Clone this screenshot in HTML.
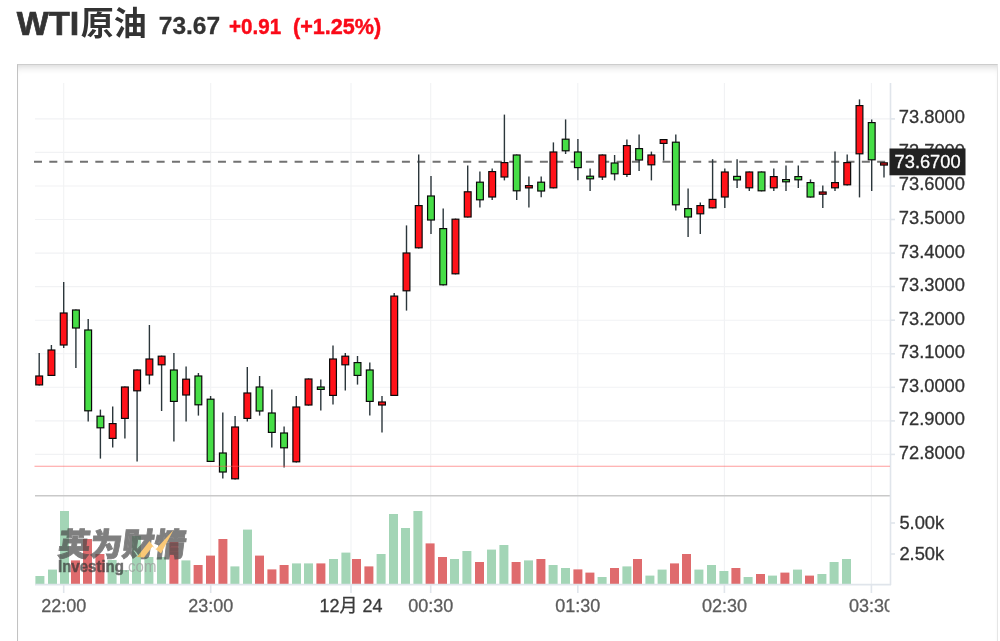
<!DOCTYPE html>
<html lang="zh-CN"><head><meta charset="utf-8"><title>WTI原油</title>
<style>
html,body{margin:0;padding:0;background:#fff;}
body{width:1000px;height:641px;position:relative;overflow:hidden;font-family:"Liberation Sans","Noto Sans CJK SC",sans-serif;}
.hd{position:absolute;left:0;top:0;height:50px;white-space:nowrap;color:#333;font-weight:bold;}
.hd span{position:absolute;line-height:1;display:block;transform-origin:0 0;}
.t{font-size:34px;left:16.8px;top:5.5px;}
.t b{-webkit-text-stroke:0.7px #333;}
.t i{font-style:normal;font-size:33px;margin-left:1.6px;position:relative;top:0.6px;}
.p{-webkit-text-stroke:0.3px #333;font-size:24.5px;left:158.8px;top:13.7px;}
.c{font-size:22px;left:229.3px;top:15.5px;color:#fa0a18;-webkit-text-stroke:0.45px #fa0a18;transform:scaleX(0.936);}
.c2{font-size:22px;left:292.7px;top:15.5px;color:#fa0a18;-webkit-text-stroke:0.45px #fa0a18;transform:scaleX(0.98);}
.box{position:absolute;left:16.8px;top:64.2px;width:981.6px;height:620px;border:1.8px solid #c2c2c2;border-top:1.8px solid #cdcdcd;border-right:1px solid #e6e6e6;box-shadow:inset 0 7px 9px -6px rgba(0,0,0,.2);box-sizing:border-box;}
</style></head><body>
<div class="hd"><span class="t"><b>WTI</b><i>原油</i></span><span class="p">73.67</span><span class="c">+0.91</span><span class="c2">(+1.25%)</span></div>
<div class="box"></div>
<svg width="1000" height="641" viewBox="0 0 1000 641" style="position:absolute;left:0;top:0">
<g stroke="#f1f2f4" stroke-width="1.1">
<line x1="35" x2="890" y1="118.9" y2="118.9"/>
<line x1="35" x2="890" y1="152.4" y2="152.4"/>
<line x1="35" x2="890" y1="186.0" y2="186.0"/>
<line x1="35" x2="890" y1="219.5" y2="219.5"/>
<line x1="35" x2="890" y1="253.1" y2="253.1"/>
<line x1="35" x2="890" y1="286.6" y2="286.6"/>
<line x1="35" x2="890" y1="320.2" y2="320.2"/>
<line x1="35" x2="890" y1="353.8" y2="353.8"/>
<line x1="35" x2="890" y1="387.3" y2="387.3"/>
<line x1="35" x2="890" y1="420.9" y2="420.9"/>
<line x1="35" x2="890" y1="454.4" y2="454.4"/>
<line x1="63.7" x2="63.7" y1="83" y2="584"/>
<line x1="210.7" x2="210.7" y1="83" y2="584"/>
<line x1="351" x2="351" y1="83" y2="584"/>
<line x1="430.7" x2="430.7" y1="83" y2="584"/>
<line x1="577.8" x2="577.8" y1="83" y2="584"/>
<line x1="724.4" x2="724.4" y1="83" y2="584"/>
<line x1="871.4" x2="871.4" y1="83" y2="584"/>
</g>
<line x1="34" x2="890" y1="161.8" y2="161.8" stroke="#727272" stroke-width="2.1" stroke-dasharray="8 7.33"/>
<rect x="35.4" y="576.0" width="9" height="8.0" fill="#a3d5b6"/>
<rect x="48.0" y="569.6" width="9" height="14.4" fill="#a3d5b6"/>
<rect x="60.0" y="511.0" width="9" height="73.0" fill="#a3d5b6"/>
<rect x="71.0" y="560.4" width="9" height="23.6" fill="#df6b6d"/>
<rect x="83.0" y="539.0" width="9" height="45.0" fill="#df6b6d"/>
<rect x="95.4" y="554.0" width="9" height="30.0" fill="#df6b6d"/>
<rect x="107.6" y="560.0" width="9" height="24.0" fill="#a3d5b6"/>
<rect x="120.0" y="570.0" width="9" height="14.0" fill="#a3d5b6"/>
<rect x="132.0" y="536.0" width="9" height="48.0" fill="#a3d5b6"/>
<rect x="144.4" y="557.0" width="9" height="27.0" fill="#a3d5b6"/>
<rect x="157.0" y="557.0" width="9" height="27.0" fill="#a3d5b6"/>
<rect x="169.4" y="542.0" width="9" height="42.0" fill="#df6b6d"/>
<rect x="181.4" y="560.4" width="9" height="23.6" fill="#a3d5b6"/>
<rect x="193.6" y="565.0" width="9" height="19.0" fill="#df6b6d"/>
<rect x="206.0" y="555.6" width="9" height="28.4" fill="#df6b6d"/>
<rect x="218.4" y="539.0" width="9" height="45.0" fill="#df6b6d"/>
<rect x="230.4" y="566.4" width="9" height="17.6" fill="#a3d5b6"/>
<rect x="243.0" y="529.6" width="9" height="54.4" fill="#a3d5b6"/>
<rect x="255.0" y="555.6" width="9" height="28.4" fill="#df6b6d"/>
<rect x="267.4" y="569.4" width="9" height="14.6" fill="#df6b6d"/>
<rect x="279.6" y="565.0" width="9" height="19.0" fill="#df6b6d"/>
<rect x="292.0" y="563.4" width="9" height="20.6" fill="#a3d5b6"/>
<rect x="304.0" y="563.4" width="9" height="20.6" fill="#a3d5b6"/>
<rect x="316.4" y="563.4" width="9" height="20.6" fill="#df6b6d"/>
<rect x="329.0" y="559.0" width="9" height="25.0" fill="#a3d5b6"/>
<rect x="341.4" y="552.6" width="9" height="31.4" fill="#a3d5b6"/>
<rect x="352.0" y="559.0" width="9" height="25.0" fill="#df6b6d"/>
<rect x="364.4" y="566.4" width="9" height="17.6" fill="#df6b6d"/>
<rect x="376.6" y="554.0" width="9" height="30.0" fill="#a3d5b6"/>
<rect x="389.0" y="514.0" width="9" height="70.0" fill="#a3d5b6"/>
<rect x="401.0" y="528.0" width="9" height="56.0" fill="#a3d5b6"/>
<rect x="413.4" y="511.0" width="9" height="73.0" fill="#a3d5b6"/>
<rect x="425.6" y="543.4" width="9" height="40.6" fill="#df6b6d"/>
<rect x="438.0" y="557.0" width="9" height="27.0" fill="#df6b6d"/>
<rect x="450.0" y="559.0" width="9" height="25.0" fill="#a3d5b6"/>
<rect x="462.4" y="551.0" width="9" height="33.0" fill="#a3d5b6"/>
<rect x="475.0" y="562.0" width="9" height="22.0" fill="#df6b6d"/>
<rect x="487.0" y="549.6" width="9" height="34.4" fill="#a3d5b6"/>
<rect x="499.4" y="545.0" width="9" height="39.0" fill="#a3d5b6"/>
<rect x="511.6" y="562.0" width="9" height="22.0" fill="#df6b6d"/>
<rect x="524.0" y="560.4" width="9" height="23.6" fill="#a3d5b6"/>
<rect x="536.4" y="559.0" width="9" height="25.0" fill="#df6b6d"/>
<rect x="548.6" y="565.0" width="9" height="19.0" fill="#a3d5b6"/>
<rect x="561.0" y="568.0" width="9" height="16.0" fill="#a3d5b6"/>
<rect x="573.4" y="569.4" width="9" height="14.6" fill="#df6b6d"/>
<rect x="585.4" y="572.6" width="9" height="11.4" fill="#df6b6d"/>
<rect x="597.6" y="577.0" width="9" height="7.0" fill="#a3d5b6"/>
<rect x="610.0" y="568.0" width="9" height="16.0" fill="#df6b6d"/>
<rect x="622.4" y="566.4" width="9" height="17.6" fill="#a3d5b6"/>
<rect x="633.0" y="559.0" width="9" height="25.0" fill="#df6b6d"/>
<rect x="645.4" y="575.6" width="9" height="8.4" fill="#a3d5b6"/>
<rect x="657.6" y="569.6" width="9" height="14.4" fill="#a3d5b6"/>
<rect x="670.0" y="563.4" width="9" height="20.6" fill="#df6b6d"/>
<rect x="682.0" y="554.0" width="9" height="30.0" fill="#df6b6d"/>
<rect x="694.4" y="569.6" width="9" height="14.4" fill="#a3d5b6"/>
<rect x="707.0" y="565.0" width="9" height="19.0" fill="#a3d5b6"/>
<rect x="719.4" y="571.0" width="9" height="13.0" fill="#a3d5b6"/>
<rect x="731.4" y="568.0" width="9" height="16.0" fill="#df6b6d"/>
<rect x="743.6" y="577.0" width="9" height="7.0" fill="#a3d5b6"/>
<rect x="756.0" y="574.0" width="9" height="10.0" fill="#df6b6d"/>
<rect x="768.0" y="575.6" width="9" height="8.4" fill="#a3d5b6"/>
<rect x="780.4" y="572.6" width="9" height="11.4" fill="#df6b6d"/>
<rect x="793.0" y="569.6" width="9" height="14.4" fill="#a3d5b6"/>
<rect x="805.0" y="575.6" width="9" height="8.4" fill="#df6b6d"/>
<rect x="817.4" y="574.0" width="9" height="10.0" fill="#a3d5b6"/>
<rect x="829.6" y="562.0" width="9" height="22.0" fill="#a3d5b6"/>
<rect x="842.0" y="559.0" width="9" height="25.0" fill="#a3d5b6"/>
<line x1="35" x2="890" y1="495.8" y2="495.8" stroke="#c9c9c9" stroke-width="1.6"/>
<line x1="890.5" x2="890.5" y1="83" y2="585" stroke="#e0e5eb" stroke-width="1.6"/>
<line x1="35" x2="891" y1="584.6" y2="584.6" stroke="#e0e5eb" stroke-width="1.6"/>
<line x1="63.7" x2="63.7" y1="585" y2="593" stroke="#e0e5eb" stroke-width="1.6"/>
<line x1="210.7" x2="210.7" y1="585" y2="593" stroke="#e0e5eb" stroke-width="1.6"/>
<line x1="351" x2="351" y1="585" y2="593" stroke="#e0e5eb" stroke-width="1.6"/>
<line x1="430.7" x2="430.7" y1="585" y2="593" stroke="#e0e5eb" stroke-width="1.6"/>
<line x1="577.8" x2="577.8" y1="585" y2="593" stroke="#e0e5eb" stroke-width="1.6"/>
<line x1="724.4" x2="724.4" y1="585" y2="593" stroke="#e0e5eb" stroke-width="1.6"/>
<line x1="871.4" x2="871.4" y1="585" y2="593" stroke="#e0e5eb" stroke-width="1.6"/>
<line x1="891" x2="895" y1="118.9" y2="118.9" stroke="#e0e5eb" stroke-width="1.6"/>
<line x1="891" x2="895" y1="152.4" y2="152.4" stroke="#e0e5eb" stroke-width="1.6"/>
<line x1="891" x2="895" y1="186.0" y2="186.0" stroke="#e0e5eb" stroke-width="1.6"/>
<line x1="891" x2="895" y1="219.5" y2="219.5" stroke="#e0e5eb" stroke-width="1.6"/>
<line x1="891" x2="895" y1="253.1" y2="253.1" stroke="#e0e5eb" stroke-width="1.6"/>
<line x1="891" x2="895" y1="286.6" y2="286.6" stroke="#e0e5eb" stroke-width="1.6"/>
<line x1="891" x2="895" y1="320.2" y2="320.2" stroke="#e0e5eb" stroke-width="1.6"/>
<line x1="891" x2="895" y1="353.8" y2="353.8" stroke="#e0e5eb" stroke-width="1.6"/>
<line x1="891" x2="895" y1="387.3" y2="387.3" stroke="#e0e5eb" stroke-width="1.6"/>
<line x1="891" x2="895" y1="420.9" y2="420.9" stroke="#e0e5eb" stroke-width="1.6"/>
<line x1="891" x2="895" y1="454.4" y2="454.4" stroke="#e0e5eb" stroke-width="1.6"/>
<line x1="891" x2="895" y1="523" y2="523" stroke="#e0e5eb" stroke-width="1.6"/>
<line x1="891" x2="895" y1="554" y2="554" stroke="#e0e5eb" stroke-width="1.6"/>
<line x1="39.2" x2="39.2" y1="353.0" y2="385.5" stroke="#2b363b" stroke-width="1.4"/>
<rect x="35.80" y="376.00" width="6.80" height="8.90" fill="#ff1219" stroke="#0a0a0a" stroke-width="1.2"/>
<line x1="51.4" x2="51.4" y1="345.0" y2="376.0" stroke="#2b363b" stroke-width="1.4"/>
<rect x="48.04" y="350.00" width="6.80" height="25.40" fill="#ff1219" stroke="#0a0a0a" stroke-width="1.2"/>
<line x1="63.7" x2="63.7" y1="282.0" y2="348.0" stroke="#2b363b" stroke-width="1.4"/>
<rect x="60.29" y="313.00" width="6.80" height="32.00" fill="#ff1219" stroke="#0a0a0a" stroke-width="1.2"/>
<line x1="75.9" x2="75.9" y1="309.4" y2="368.0" stroke="#2b363b" stroke-width="1.4"/>
<rect x="72.53" y="310.00" width="6.80" height="18.00" fill="#46de46" stroke="#0a0a0a" stroke-width="1.2"/>
<line x1="88.2" x2="88.2" y1="319.0" y2="421.6" stroke="#2b363b" stroke-width="1.4"/>
<rect x="84.77" y="330.00" width="6.80" height="80.80" fill="#46de46" stroke="#0a0a0a" stroke-width="1.2"/>
<line x1="100.4" x2="100.4" y1="409.6" y2="458.6" stroke="#2b363b" stroke-width="1.4"/>
<rect x="97.02" y="416.20" width="6.80" height="11.60" fill="#46de46" stroke="#0a0a0a" stroke-width="1.2"/>
<line x1="112.7" x2="112.7" y1="406.4" y2="447.6" stroke="#2b363b" stroke-width="1.4"/>
<rect x="109.26" y="423.60" width="6.80" height="14.80" fill="#ff1219" stroke="#0a0a0a" stroke-width="1.2"/>
<line x1="124.9" x2="124.9" y1="386.4" y2="438.6" stroke="#2b363b" stroke-width="1.4"/>
<rect x="121.50" y="387.00" width="6.80" height="31.40" fill="#ff1219" stroke="#0a0a0a" stroke-width="1.2"/>
<line x1="137.1" x2="137.1" y1="369.4" y2="461.6" stroke="#2b363b" stroke-width="1.4"/>
<rect x="133.74" y="370.00" width="6.80" height="20.80" fill="#ff1219" stroke="#0a0a0a" stroke-width="1.2"/>
<line x1="149.4" x2="149.4" y1="325.0" y2="384.4" stroke="#2b363b" stroke-width="1.4"/>
<rect x="145.99" y="359.00" width="6.80" height="16.00" fill="#ff1219" stroke="#0a0a0a" stroke-width="1.2"/>
<line x1="161.6" x2="161.6" y1="355.6" y2="411.0" stroke="#2b363b" stroke-width="1.4"/>
<rect x="158.23" y="356.20" width="6.80" height="8.60" fill="#ff1219" stroke="#0a0a0a" stroke-width="1.2"/>
<line x1="173.9" x2="173.9" y1="353.0" y2="441.6" stroke="#2b363b" stroke-width="1.4"/>
<rect x="170.47" y="370.00" width="6.80" height="31.40" fill="#46de46" stroke="#0a0a0a" stroke-width="1.2"/>
<line x1="186.1" x2="186.1" y1="366.6" y2="421.6" stroke="#2b363b" stroke-width="1.4"/>
<rect x="182.72" y="379.20" width="6.80" height="15.80" fill="#ff1219" stroke="#0a0a0a" stroke-width="1.2"/>
<line x1="198.4" x2="198.4" y1="373.0" y2="415.6" stroke="#2b363b" stroke-width="1.4"/>
<rect x="194.96" y="376.00" width="6.80" height="28.80" fill="#46de46" stroke="#0a0a0a" stroke-width="1.2"/>
<line x1="210.6" x2="210.6" y1="396.0" y2="462.0" stroke="#2b363b" stroke-width="1.4"/>
<rect x="207.20" y="399.20" width="6.80" height="62.20" fill="#46de46" stroke="#0a0a0a" stroke-width="1.2"/>
<line x1="222.8" x2="222.8" y1="412.6" y2="478.6" stroke="#2b363b" stroke-width="1.4"/>
<rect x="219.45" y="453.00" width="6.80" height="19.00" fill="#46de46" stroke="#0a0a0a" stroke-width="1.2"/>
<line x1="235.1" x2="235.1" y1="416.0" y2="479.4" stroke="#2b363b" stroke-width="1.4"/>
<rect x="231.69" y="427.00" width="6.80" height="51.80" fill="#ff1219" stroke="#0a0a0a" stroke-width="1.2"/>
<line x1="247.3" x2="247.3" y1="367.0" y2="421.6" stroke="#2b363b" stroke-width="1.4"/>
<rect x="243.93" y="393.00" width="6.80" height="25.40" fill="#ff1219" stroke="#0a0a0a" stroke-width="1.2"/>
<line x1="259.6" x2="259.6" y1="376.0" y2="415.6" stroke="#2b363b" stroke-width="1.4"/>
<rect x="256.17" y="387.00" width="6.80" height="24.00" fill="#46de46" stroke="#0a0a0a" stroke-width="1.2"/>
<line x1="271.8" x2="271.8" y1="389.6" y2="447.6" stroke="#2b363b" stroke-width="1.4"/>
<rect x="268.42" y="413.00" width="6.80" height="19.40" fill="#46de46" stroke="#0a0a0a" stroke-width="1.2"/>
<line x1="284.1" x2="284.1" y1="426.6" y2="467.6" stroke="#2b363b" stroke-width="1.4"/>
<rect x="280.66" y="433.00" width="6.80" height="14.80" fill="#46de46" stroke="#0a0a0a" stroke-width="1.2"/>
<line x1="296.3" x2="296.3" y1="396.0" y2="462.4" stroke="#2b363b" stroke-width="1.4"/>
<rect x="292.90" y="407.00" width="6.80" height="54.80" fill="#ff1219" stroke="#0a0a0a" stroke-width="1.2"/>
<line x1="308.5" x2="308.5" y1="378.4" y2="405.6" stroke="#2b363b" stroke-width="1.4"/>
<rect x="305.15" y="379.00" width="6.80" height="26.00" fill="#ff1219" stroke="#0a0a0a" stroke-width="1.2"/>
<line x1="320.8" x2="320.8" y1="379.4" y2="410.6" stroke="#2b363b" stroke-width="1.4"/>
<rect x="317.39" y="387.00" width="6.80" height="2.40" fill="#46de46" stroke="#0a0a0a" stroke-width="1.2"/>
<line x1="333.0" x2="333.0" y1="345.4" y2="404.6" stroke="#2b363b" stroke-width="1.4"/>
<rect x="329.63" y="359.00" width="6.80" height="36.40" fill="#ff1219" stroke="#0a0a0a" stroke-width="1.2"/>
<line x1="345.3" x2="345.3" y1="353.0" y2="390.6" stroke="#2b363b" stroke-width="1.4"/>
<rect x="341.88" y="356.20" width="6.80" height="8.60" fill="#ff1219" stroke="#0a0a0a" stroke-width="1.2"/>
<line x1="357.5" x2="357.5" y1="356.0" y2="384.6" stroke="#2b363b" stroke-width="1.4"/>
<rect x="354.12" y="362.60" width="6.80" height="12.80" fill="#46de46" stroke="#0a0a0a" stroke-width="1.2"/>
<line x1="369.8" x2="369.8" y1="362.4" y2="415.6" stroke="#2b363b" stroke-width="1.4"/>
<rect x="366.36" y="370.00" width="6.80" height="31.40" fill="#46de46" stroke="#0a0a0a" stroke-width="1.2"/>
<line x1="382.0" x2="382.0" y1="396.0" y2="432.6" stroke="#2b363b" stroke-width="1.4"/>
<rect x="378.60" y="402.00" width="6.80" height="3.00" fill="#ff1219" stroke="#0a0a0a" stroke-width="1.2"/>
<line x1="394.2" x2="394.2" y1="293.0" y2="396.0" stroke="#2b363b" stroke-width="1.4"/>
<rect x="390.85" y="296.10" width="6.80" height="99.30" fill="#ff1219" stroke="#0a0a0a" stroke-width="1.2"/>
<line x1="406.5" x2="406.5" y1="225.4" y2="310.6" stroke="#2b363b" stroke-width="1.4"/>
<rect x="403.09" y="253.00" width="6.80" height="37.80" fill="#ff1219" stroke="#0a0a0a" stroke-width="1.2"/>
<line x1="418.7" x2="418.7" y1="154.6" y2="248.4" stroke="#2b363b" stroke-width="1.4"/>
<rect x="415.33" y="205.60" width="6.80" height="42.20" fill="#ff1219" stroke="#0a0a0a" stroke-width="1.2"/>
<line x1="431.0" x2="431.0" y1="176.0" y2="234.0" stroke="#2b363b" stroke-width="1.4"/>
<rect x="427.58" y="196.00" width="6.80" height="24.00" fill="#46de46" stroke="#0a0a0a" stroke-width="1.2"/>
<line x1="443.2" x2="443.2" y1="208.5" y2="285.4" stroke="#2b363b" stroke-width="1.4"/>
<rect x="439.82" y="228.60" width="6.80" height="56.20" fill="#46de46" stroke="#0a0a0a" stroke-width="1.2"/>
<line x1="455.5" x2="455.5" y1="218.6" y2="274.4" stroke="#2b363b" stroke-width="1.4"/>
<rect x="452.06" y="219.20" width="6.80" height="54.60" fill="#ff1219" stroke="#0a0a0a" stroke-width="1.2"/>
<line x1="467.7" x2="467.7" y1="165.4" y2="217.6" stroke="#2b363b" stroke-width="1.4"/>
<rect x="464.31" y="191.80" width="6.80" height="25.20" fill="#ff1219" stroke="#0a0a0a" stroke-width="1.2"/>
<line x1="479.9" x2="479.9" y1="171.6" y2="207.6" stroke="#2b363b" stroke-width="1.4"/>
<rect x="476.55" y="182.20" width="6.80" height="17.60" fill="#46de46" stroke="#0a0a0a" stroke-width="1.2"/>
<line x1="492.2" x2="492.2" y1="168.6" y2="200.0" stroke="#2b363b" stroke-width="1.4"/>
<rect x="488.79" y="171.60" width="6.80" height="25.40" fill="#ff1219" stroke="#0a0a0a" stroke-width="1.2"/>
<line x1="504.4" x2="504.4" y1="114.6" y2="180.4" stroke="#2b363b" stroke-width="1.4"/>
<rect x="501.03" y="162.60" width="6.80" height="14.40" fill="#ff1219" stroke="#0a0a0a" stroke-width="1.2"/>
<line x1="516.7" x2="516.7" y1="154.4" y2="200.0" stroke="#2b363b" stroke-width="1.4"/>
<rect x="513.28" y="155.00" width="6.80" height="35.80" fill="#46de46" stroke="#0a0a0a" stroke-width="1.2"/>
<line x1="528.9" x2="528.9" y1="176.4" y2="207.6" stroke="#2b363b" stroke-width="1.4"/>
<rect x="525.52" y="185.60" width="6.80" height="2.30" fill="#ff1219" stroke="#0a0a0a" stroke-width="1.2"/>
<line x1="541.2" x2="541.2" y1="176.4" y2="197.2" stroke="#2b363b" stroke-width="1.4"/>
<rect x="537.76" y="182.20" width="6.80" height="8.80" fill="#46de46" stroke="#0a0a0a" stroke-width="1.2"/>
<line x1="553.4" x2="553.4" y1="142.4" y2="188.4" stroke="#2b363b" stroke-width="1.4"/>
<rect x="550.01" y="152.00" width="6.80" height="35.80" fill="#ff1219" stroke="#0a0a0a" stroke-width="1.2"/>
<line x1="565.6" x2="565.6" y1="119.4" y2="154.0" stroke="#2b363b" stroke-width="1.4"/>
<rect x="562.25" y="139.20" width="6.80" height="11.60" fill="#46de46" stroke="#0a0a0a" stroke-width="1.2"/>
<line x1="577.9" x2="577.9" y1="139.0" y2="180.2" stroke="#2b363b" stroke-width="1.4"/>
<rect x="574.49" y="152.00" width="6.80" height="15.60" fill="#46de46" stroke="#0a0a0a" stroke-width="1.2"/>
<line x1="590.1" x2="590.1" y1="168.4" y2="191.0" stroke="#2b363b" stroke-width="1.4"/>
<rect x="586.74" y="176.20" width="6.80" height="2.60" fill="#46de46" stroke="#0a0a0a" stroke-width="1.2"/>
<line x1="602.4" x2="602.4" y1="154.4" y2="180.0" stroke="#2b363b" stroke-width="1.4"/>
<rect x="598.98" y="155.00" width="6.80" height="22.00" fill="#ff1219" stroke="#0a0a0a" stroke-width="1.2"/>
<line x1="614.6" x2="614.6" y1="155.0" y2="180.4" stroke="#2b363b" stroke-width="1.4"/>
<rect x="611.22" y="163.00" width="6.80" height="10.80" fill="#46de46" stroke="#0a0a0a" stroke-width="1.2"/>
<line x1="626.9" x2="626.9" y1="139.4" y2="177.0" stroke="#2b363b" stroke-width="1.4"/>
<rect x="623.46" y="145.60" width="6.80" height="28.80" fill="#ff1219" stroke="#0a0a0a" stroke-width="1.2"/>
<line x1="639.1" x2="639.1" y1="134.6" y2="171.0" stroke="#2b363b" stroke-width="1.4"/>
<rect x="635.71" y="148.60" width="6.80" height="11.40" fill="#46de46" stroke="#0a0a0a" stroke-width="1.2"/>
<line x1="651.4" x2="651.4" y1="151.6" y2="180.4" stroke="#2b363b" stroke-width="1.4"/>
<rect x="647.95" y="155.00" width="6.80" height="9.80" fill="#ff1219" stroke="#0a0a0a" stroke-width="1.2"/>
<line x1="663.6" x2="663.6" y1="139.0" y2="160.6" stroke="#2b363b" stroke-width="1.4"/>
<rect x="660.19" y="139.60" width="6.80" height="3.80" fill="#ff1219" stroke="#0a0a0a" stroke-width="1.2"/>
<line x1="675.8" x2="675.8" y1="134.6" y2="210.6" stroke="#2b363b" stroke-width="1.4"/>
<rect x="672.44" y="142.20" width="6.80" height="62.60" fill="#46de46" stroke="#0a0a0a" stroke-width="1.2"/>
<line x1="688.1" x2="688.1" y1="188.6" y2="237.0" stroke="#2b363b" stroke-width="1.4"/>
<rect x="684.68" y="208.60" width="6.80" height="8.40" fill="#46de46" stroke="#0a0a0a" stroke-width="1.2"/>
<line x1="700.3" x2="700.3" y1="202.4" y2="234.0" stroke="#2b363b" stroke-width="1.4"/>
<rect x="696.92" y="205.60" width="6.80" height="8.20" fill="#ff1219" stroke="#0a0a0a" stroke-width="1.2"/>
<line x1="712.6" x2="712.6" y1="159.2" y2="208.4" stroke="#2b363b" stroke-width="1.4"/>
<rect x="709.17" y="199.40" width="6.80" height="8.40" fill="#ff1219" stroke="#0a0a0a" stroke-width="1.2"/>
<line x1="724.8" x2="724.8" y1="168.5" y2="208.0" stroke="#2b363b" stroke-width="1.4"/>
<rect x="721.41" y="172.00" width="6.80" height="25.00" fill="#ff1219" stroke="#0a0a0a" stroke-width="1.2"/>
<line x1="737.1" x2="737.1" y1="159.2" y2="188.0" stroke="#2b363b" stroke-width="1.4"/>
<rect x="733.65" y="176.40" width="6.80" height="3.50" fill="#46de46" stroke="#0a0a0a" stroke-width="1.2"/>
<line x1="749.3" x2="749.3" y1="171.4" y2="191.0" stroke="#2b363b" stroke-width="1.4"/>
<rect x="745.89" y="172.00" width="6.80" height="15.80" fill="#ff1219" stroke="#0a0a0a" stroke-width="1.2"/>
<line x1="761.5" x2="761.5" y1="171.4" y2="191.4" stroke="#2b363b" stroke-width="1.4"/>
<rect x="758.14" y="172.00" width="6.80" height="18.80" fill="#46de46" stroke="#0a0a0a" stroke-width="1.2"/>
<line x1="773.8" x2="773.8" y1="168.6" y2="191.0" stroke="#2b363b" stroke-width="1.4"/>
<rect x="770.38" y="176.60" width="6.80" height="11.20" fill="#ff1219" stroke="#0a0a0a" stroke-width="1.2"/>
<line x1="786.0" x2="786.0" y1="165.4" y2="191.0" stroke="#2b363b" stroke-width="1.4"/>
<rect x="782.62" y="179.60" width="6.80" height="2.20" fill="#46de46" stroke="#0a0a0a" stroke-width="1.2"/>
<line x1="798.3" x2="798.3" y1="165.4" y2="188.0" stroke="#2b363b" stroke-width="1.4"/>
<rect x="794.87" y="176.60" width="6.80" height="3.20" fill="#46de46" stroke="#0a0a0a" stroke-width="1.2"/>
<line x1="810.5" x2="810.5" y1="179.4" y2="197.6" stroke="#2b363b" stroke-width="1.4"/>
<rect x="807.11" y="182.60" width="6.80" height="14.40" fill="#46de46" stroke="#0a0a0a" stroke-width="1.2"/>
<line x1="822.8" x2="822.8" y1="185.4" y2="208.0" stroke="#2b363b" stroke-width="1.4"/>
<rect x="819.35" y="192.00" width="6.80" height="2.20" fill="#ff1219" stroke="#0a0a0a" stroke-width="1.2"/>
<line x1="835.0" x2="835.0" y1="151.6" y2="191.0" stroke="#2b363b" stroke-width="1.4"/>
<rect x="831.60" y="182.60" width="6.80" height="5.20" fill="#ff1219" stroke="#0a0a0a" stroke-width="1.2"/>
<line x1="847.2" x2="847.2" y1="154.6" y2="185.4" stroke="#2b363b" stroke-width="1.4"/>
<rect x="843.84" y="162.60" width="6.80" height="22.20" fill="#ff1219" stroke="#0a0a0a" stroke-width="1.2"/>
<line x1="859.5" x2="859.5" y1="99.4" y2="197.4" stroke="#2b363b" stroke-width="1.4"/>
<rect x="856.08" y="105.60" width="6.80" height="48.20" fill="#ff1219" stroke="#0a0a0a" stroke-width="1.2"/>
<line x1="871.7" x2="871.7" y1="119.4" y2="191.0" stroke="#2b363b" stroke-width="1.4"/>
<rect x="868.32" y="122.60" width="6.80" height="37.20" fill="#46de46" stroke="#0a0a0a" stroke-width="1.2"/>
<line x1="884.0" x2="884.0" y1="162.4" y2="177.4" stroke="#2b363b" stroke-width="1.4"/>
<rect x="880.57" y="162.85" width="6.80" height="2.20" fill="#ff1219" stroke="#0a0a0a" stroke-width="1.2"/>
<line x1="34.5" x2="890" y1="466.3" y2="466.3" stroke="#ff5a5a" stroke-opacity="0.6" stroke-width="1.1"/>
<g font-family="Liberation Sans, Noto Sans CJK SC, sans-serif" font-size="18" fill="#333" stroke="#333" stroke-width="0.3">
<text x="898.8" y="123.3" textLength="66.2" lengthAdjust="spacingAndGlyphs">73.8000</text>
<text x="898.8" y="156.8" textLength="66.2" lengthAdjust="spacingAndGlyphs">73.7000</text>
<text x="898.8" y="190.4" textLength="66.2" lengthAdjust="spacingAndGlyphs">73.6000</text>
<text x="898.8" y="223.9" textLength="66.2" lengthAdjust="spacingAndGlyphs">73.5000</text>
<text x="898.8" y="257.5" textLength="66.2" lengthAdjust="spacingAndGlyphs">73.4000</text>
<text x="898.8" y="291.0" textLength="66.2" lengthAdjust="spacingAndGlyphs">73.3000</text>
<text x="898.8" y="324.6" textLength="66.2" lengthAdjust="spacingAndGlyphs">73.2000</text>
<text x="898.8" y="358.2" textLength="66.2" lengthAdjust="spacingAndGlyphs">73.1000</text>
<text x="898.8" y="391.7" textLength="66.2" lengthAdjust="spacingAndGlyphs">73.0000</text>
<text x="898.8" y="425.3" textLength="66.2" lengthAdjust="spacingAndGlyphs">72.9000</text>
<text x="898.8" y="458.8" textLength="66.2" lengthAdjust="spacingAndGlyphs">72.8000</text>
<text x="899.4" y="528.8" textLength="44.8" lengthAdjust="spacingAndGlyphs">5.00k</text>
<text x="899.4" y="560" textLength="44.8" lengthAdjust="spacingAndGlyphs">2.50k</text>
</g>
<rect x="889.5" y="148.5" width="76" height="26.8" fill="#222"/>
<text x="894.6" y="168.2" font-family="Liberation Sans, Noto Sans CJK SC, sans-serif" font-size="18" fill="#fff" stroke="#fff" stroke-width="0.3" textLength="66" lengthAdjust="spacingAndGlyphs">73.6700</text>
<defs><clipPath id="cp"><rect x="0" y="590" width="889.5" height="40"/></clipPath></defs>
<g font-family="Liberation Sans, Noto Sans CJK SC, sans-serif" font-size="18" fill="#5c5c5c" stroke="#5c5c5c" stroke-width="0.3" text-anchor="middle" clip-path="url(#cp)">
<text x="63.7" y="612">22:00</text>
<text x="210.7" y="612">23:00</text>
<text x="351" y="612" fill="#3a3a3a" stroke="#3a3a3a" stroke-width="0.3" textLength="63" lengthAdjust="spacingAndGlyphs">12月 24</text>
<text x="430.7" y="612">00:30</text>
<text x="577.8" y="612">01:30</text>
<text x="724.4" y="612">02:30</text>
<text x="871.4" y="612">03:30</text>
</g>
<defs><filter id="bl" x="-5%" y="-5%" width="110%" height="110%"><feGaussianBlur stdDeviation="0.4"/></filter></defs>
<g opacity="0.7" filter="url(#bl)">
<text transform="translate(57,556.3) skewX(-7)" font-family="Noto Sans CJK SC, sans-serif" font-size="32" font-weight="900" fill="#4a4a4a" stroke="#4a4a4a" stroke-width="0.9" textLength="128" lengthAdjust="spacingAndGlyphs">英为财情</text>
<path d="M137 557 L149.5 541 L155.5 549.5 L173.5 530 L161 553.5 L152.5 546.5 L144 557.5 Z" fill="#f7b13c"/>
<text x="58" y="572.4" font-family="Liberation Sans, Noto Sans CJK SC, sans-serif" font-size="17" font-weight="bold" fill="#333" stroke="#333" stroke-width="0.5" textLength="98.5" lengthAdjust="spacingAndGlyphs">Investing<tspan font-weight="normal" fill="#999" stroke="none">.com</tspan></text>
</g>
</svg>
</body></html>
